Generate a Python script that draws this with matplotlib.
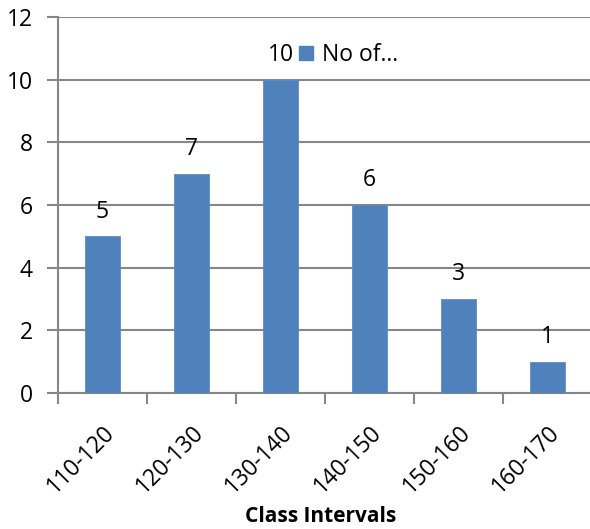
import matplotlib
matplotlib.use("Agg")
import matplotlib.pyplot as plt
from matplotlib.patches import Patch

categories = ["110-120", "120-130", "130-140", "140-150", "150-160", "160-170"]
counts = [5, 7, 10, 6, 3, 1]
yticks = [0, 2, 4, 6, 8, 10, 12]

plt.rcParams["font.family"] = ["Open Sans", "DejaVu Sans"]

fig = plt.figure(figsize=(5.90, 5.29), dpi=100)
ax = fig.add_axes([58 / 590, 136 / 529, 534 / 590, 376 / 529])

bar_color = "#4F81BD"
grid_color = "#868686"
fs = 16.5

x = list(range(len(categories)))
bars = ax.bar(x, counts, width=0.4, color=bar_color, edgecolor="#5B8CC6",
              linewidth=0.6, zorder=3)

for xi, v in zip(x, counts):
    ax.text(xi, v + 0.4, str(v), ha="center", va="bottom", fontsize=fs,
            color="black", zorder=4)

ax.set_xlim(-0.5, len(categories) - 0.5)
ax.set_ylim(0, 12)
ax.set_yticks(yticks)
ax.set_yticklabels([str(t) for t in yticks], fontsize=fs)

# category boundaries get the tick marks; labels sit at the centres
ax.set_xticks([i - 0.5 for i in range(len(categories) + 1)])
ax.set_xticklabels([])
ax.set_xticks(x, minor=True)
ax.set_xticklabels(categories, minor=True, rotation=45, ha="right",
                   rotation_mode="anchor", fontsize=fs)
ax.tick_params(axis="x", which="minor", length=0, pad=20)
ax.tick_params(axis="x", which="major", length=8, width=1.5, color=grid_color,
               direction="out")
ax.tick_params(axis="y", length=8, width=1.5, color=grid_color, direction="out",
               pad=10)

ax.yaxis.grid(True, color=grid_color, linewidth=1.5, zorder=0)
ax.set_axisbelow(True)

for side in ("top", "right"):
    ax.spines[side].set_visible(False)
for side in ("left", "bottom"):
    ax.spines[side].set_color(grid_color)
    ax.spines[side].set_linewidth(1.5)

ax.set_xlabel("Class Intervals", fontsize=15, fontweight="bold", va="center")
ax.xaxis.set_label_coords((321 - 58) / 534, -(516 - 393) / 376)

handle = Patch(facecolor=bar_color, edgecolor=bar_color)
leg = fig.legend([handle], ["No of…"], loc="center left",
                 bbox_to_anchor=(288 / 590, 1 - 55 / 529), frameon=False,
                 fontsize=fs, handlelength=0.6, handleheight=0.6,
                 handletextpad=0.4, borderpad=0)

fig.savefig("out.png", dpi=100)
